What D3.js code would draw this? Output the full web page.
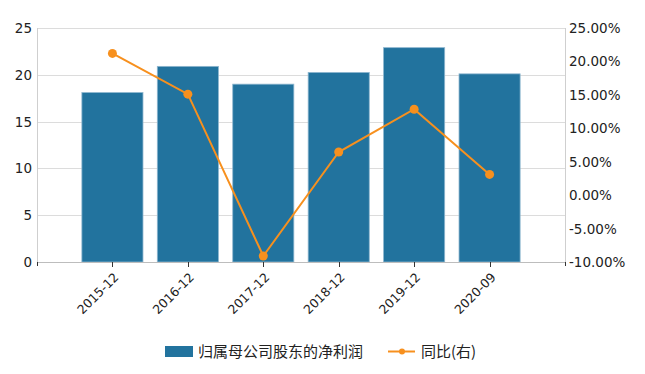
<!DOCTYPE html>
<html>
<head>
<meta charset="utf-8">
<script src="https://cdn.jsdelivr.net/npm/d3@7"></script>
<style>
  body { margin: 0; background: #fff; }
  svg { display: block; font-family: "DejaVu Sans", Verdana, sans-serif; }
</style>
</head>
<body>
<svg id="chart" width="645" height="374"></svg>
<script>
// data
var categories = ['2015-12', '2016-12', '2017-12', '2018-12', '2019-12', '2020-09'];
var profit = [18.1, 20.9, 19.0, 20.25, 22.9, 20.1];
var yoy = [21.2, 15.1, -9.1, 6.45, 12.85, 3.1];
var leftTicks = [0, 5, 10, 15, 20, 25];
var rightTicks = [-10, -5, 0, 5, 10, 15, 20, 25];
var legendNames = ['归属母公司股东的净利润', '同比(右)'];

var barColor = '#22739e', lineColor = '#f7901e';
var svg = d3.select('#chart');
var plotLeft = 37, plotRight = 565, plotTop = 28, plotBottom = 262;

var x = d3.scalePoint().domain(categories).range([plotLeft, plotRight]).padding(1);
var yL = d3.scaleLinear().domain([0, 25]).range([plotBottom, plotTop]);
var yR = d3.scaleLinear().domain([-10, 25]).range([plotBottom, plotTop]);
var barWidth = x.step() * 0.81;

// gridlines
svg.append('g')
    .selectAll('line')
    .data(leftTicks.slice(1)).enter()
    .append('line')
        .attr('x1', plotLeft).attr('x2', plotRight)
        .attr('y1', d => Math.round(yL(d)) + 0.5).attr('y2', d => Math.round(yL(d)) + 0.5)
        .attr('stroke', '#dcdcdc').attr('stroke-width', 1);

// side axis lines
svg.append('line').attr('x1', plotLeft + 0.5).attr('x2', plotLeft + 0.5).attr('y1', plotTop).attr('y2', plotBottom)
    .attr('stroke', '#cfcfcf');
svg.append('line').attr('x1', plotRight + 0.5).attr('x2', plotRight + 0.5).attr('y1', plotTop).attr('y2', plotBottom)
    .attr('stroke', '#cfcfcf');

// bars
svg.append('g')
    .selectAll('rect')
    .data(profit).enter()
    .append('rect')
        .attr('x', (d, i) => x(categories[i]) - barWidth / 2)
        .attr('y', d => yL(d))
        .attr('width', barWidth)
        .attr('height', d => yL(0) - yL(d))
        .attr('fill', barColor)
        .attr('stroke', '#8db6cf')
        .attr('stroke-width', 0.8);

// bottom axis
svg.append('line').attr('x1', plotLeft).attr('x2', plotRight).attr('y1', plotBottom + 0.5).attr('y2', plotBottom + 0.5)
    .attr('stroke', '#bdbdbd');
svg.append('g')
    .selectAll('line')
    .data(categories).enter()
    .append('line')
        .attr('x1', d => Math.round(x(d)) + 0.5).attr('x2', d => Math.round(x(d)) + 0.5)
        .attr('y1', plotBottom).attr('y2', plotBottom + 5)
        .attr('stroke', '#333');
svg.append('line').attr('x1', plotLeft + 0.5).attr('x2', plotLeft + 0.5).attr('y1', plotBottom).attr('y2', plotBottom + 4)
    .attr('stroke', '#333');
svg.append('line').attr('x1', plotRight + 0.5).attr('x2', plotRight + 0.5).attr('y1', plotBottom).attr('y2', plotBottom + 4)
    .attr('stroke', '#333');

svg.append('g')
    .selectAll('text')
    .data(categories).enter()
    .append('text')
        .attr('transform', d => 'translate(' + (x(d) + 7) + ',' + (plotBottom + 16) + ') rotate(-45)')
        .attr('text-anchor', 'end')
        .style('font-size', '12.5px')
        .attr('fill', '#222')
        .text(d => d);

// left tick labels
svg.append('g')
    .selectAll('text')
    .data(leftTicks).enter()
    .append('text')
        .attr('x', 32)
        .attr('y', d => yL(d) + 5)
        .attr('text-anchor', 'end')
        .style('font-size', '13.5px')
        .attr('fill', '#222')
        .text(d => d);

// right tick labels
svg.append('g')
    .selectAll('text')
    .data(rightTicks).enter()
    .append('text')
        .attr('x', 569)
        .attr('y', d => yR(d) + 5)
        .style('font-size', '13.5px')
        .attr('fill', '#222')
        .text(d => d.toFixed(2) + '%');

// line
var line = d3.line()
    .x((d, i) => x(categories[i]))
    .y(d => yR(d));
svg.append('path')
    .datum(yoy)
    .attr('d', line)
    .attr('fill', 'none')
    .attr('stroke', lineColor)
    .attr('stroke-width', 2);
svg.append('g')
    .selectAll('circle')
    .data(yoy).enter()
    .append('circle')
        .attr('cx', (d, i) => x(categories[i]))
        .attr('cy', d => yR(d))
        .attr('r', 4.5)
        .attr('fill', lineColor);

// legend
var legend = svg.append('g').style('font-family', '"Noto Sans CJK SC", sans-serif');
legend.append('rect')
    .attr('x', 165).attr('y', 346).attr('width', 28).attr('height', 11)
    .attr('fill', barColor);
legend.append('text')
    .attr('x', 198).attr('y', 357)
    .style('font-size', '15px')
    .attr('fill', '#222')
    .text(legendNames[0]);
legend.append('line')
    .attr('x1', 388).attr('x2', 415).attr('y1', 351.5).attr('y2', 351.5)
    .attr('stroke', lineColor).attr('stroke-width', 2);
legend.append('circle')
    .attr('cx', 402).attr('cy', 351.5).attr('r', 3)
    .attr('fill', lineColor);
legend.append('text')
    .attr('x', 421).attr('y', 357)
    .style('font-size', '15px')
    .attr('fill', '#222')
    .text(legendNames[1]);
</script>
</body>
</html>
